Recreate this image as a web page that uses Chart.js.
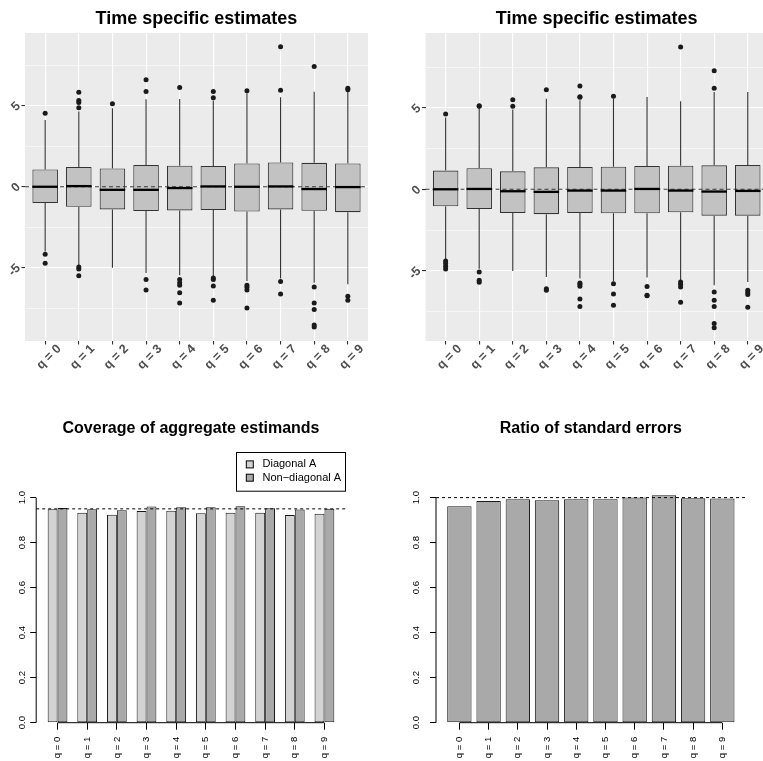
<!DOCTYPE html>
<html>
<head>
<meta charset="utf-8">
<script src="https://cdn.jsdelivr.net/npm/chart.js@4.4.0/dist/chart.umd.min.js"></script>
<style>
html, body { margin: 0; padding: 0; background: #fff; overflow: hidden; }
#wrap { position: relative; width: 763px; height: 761px; overflow: hidden; }
canvas { position: absolute; }
</style>
</head>
<body>
<div id="wrap">
  <canvas id="c1" width="393" height="381" style="left:0px;top:0px"></canvas>
  <canvas id="c2" width="433" height="381" style="left:380px;top:0px"></canvas>
  <canvas id="c3" width="382" height="381" style="left:0px;top:380px"></canvas>
  <canvas id="c4" width="420" height="381" style="left:381px;top:380px"></canvas>
</div>
<script>
const cats = ['q = 0', 'q = 1', 'q = 2', 'q = 3', 'q = 4', 'q = 5', 'q = 6', 'q = 7', 'q = 8', 'q = 9'];
const titles = ['Time specific estimates', 'Time specific estimates', 'Coverage of aggregate estimands', 'Ratio of standard errors'];

// left boxplot (whisker ends, quartiles, medians, outliers)
const leftLo  = [-4.0, -4.85, -5.0, -5.32, -5.46, -5.53, -5.81, -5.67, -5.92, -6.02];
const leftQ1  = [-1.01, -1.24, -1.40, -1.50, -1.46, -1.44, -1.53, -1.40, -1.48, -1.57];
const leftMed = [0.0, 0.04, -0.19, -0.19, -0.08, 0.02, 0.0, 0.02, -0.14, -0.02];
const leftQ3  = [1.07, 1.22, 1.13, 1.34, 1.30, 1.28, 1.44, 1.50, 1.48, 1.44];
const leftHi  = [4.12, 4.64, 4.85, 5.40, 5.42, 5.32, 5.77, 5.53, 5.86, 5.86];
const leftOut = [
  [4.54, -4.16, -4.72],
  [5.84, 5.32, 5.2, 4.87, -4.95, -5.07, -5.5],
  [5.13],
  [5.88, 6.6, -5.73, -6.37],
  [6.12, -5.73, -5.92, -6.08, -6.54, -7.18],
  [5.5, 5.88, -5.63, -5.73, -6.12, -7.01],
  [5.92, -6.08, -6.2, -6.37, -7.48],
  [5.96, 8.64, -5.84, -6.62],
  [7.42, -6.19, -7.18, -7.57, -8.54, -8.66],
  [6.08, 5.98, -6.76, -7.01]
];

// right boxplot
const rightLo  = [-4.3, -4.87, -5.01, -5.38, -5.48, -5.65, -5.42, -5.62, -5.89, -5.69];
const rightQ1  = [-1.04, -1.21, -1.45, -1.53, -1.45, -1.47, -1.47, -1.41, -1.62, -1.62];
const rightMed = [0.0, 0.02, -0.12, -0.16, -0.08, -0.08, 0.02, -0.08, -0.14, -0.10];
const rightQ3  = [1.15, 1.29, 1.10, 1.35, 1.37, 1.39, 1.43, 1.45, 1.47, 1.49];
const rightHi  = [4.4, 5.0, 4.9, 5.56, 5.46, 5.56, 5.66, 5.4, 5.97, 5.97];
const rightOut = [
  [4.62, -4.4, -4.56, -4.72, -4.89],
  [5.09, 5.13, -5.07, -5.58, -5.71],
  [5.09, 5.5],
  [6.11, -6.11, -6.2],
  [5.64, 5.68, 6.34, -5.75, -5.83, -5.95, -6.73, -7.2],
  [5.71, -5.79, -6.42, -7.12],
  [-5.97, -6.5, -6.54],
  [8.73, -5.69, -5.83, -5.99, -6.93],
  [6.2, 7.28, -6.3, -6.81, -7.2, -8.24, -8.49],
  [-6.2, -6.34, -6.46, -7.24]
];
const boxTicks = [-5, 0, 5];

// bar panels
const seriesNames = ['Diagonal A', 'Non\u2212diagonal A'];
const coverDiag    = [0.948, 0.933, 0.924, 0.940, 0.942, 0.931, 0.933, 0.933, 0.923, 0.928];
const coverNonDiag = [0.954, 0.948, 0.944, 0.960, 0.957, 0.957, 0.962, 0.953, 0.947, 0.951];
const seRatio      = [0.962, 0.985, 0.993, 0.988, 0.993, 0.993, 1.000, 1.010, 0.997, 0.996];
const barTicks = ['0.0', '0.2', '0.4', '0.6', '0.8', '1.0'];

const FONT = "'Liberation Sans', Arial, Helvetica, sans-serif";
Chart.defaults.font.family = FONT;
const NONE = 'rgba(0,0,0,0)';

function isInt(v) { return Math.abs(v - Math.round(v)) < 1e-6; }
function tickVal(c) { return c && c.tick ? c.tick.value : NaN; }

const titlePlugin = {
  id: 'panelTitle',
  afterDraw(chart, args, opts) {
    const ca = chart.chartArea, ctx = chart.ctx;
    ctx.save();
    ctx.font = 'bold ' + opts.size + 'px ' + FONT;
    ctx.fillStyle = '#000';
    ctx.textAlign = 'center';
    ctx.textBaseline = 'middle';
    ctx.fillText(opts.text, (ca.left + ca.right) / 2, opts.y);
    ctx.restore();
  }
};

const boxPlugin = {
  id: 'boxParts',
  beforeDraw(chart) {
    const ca = chart.chartArea, ctx = chart.ctx;
    ctx.save();
    ctx.fillStyle = '#EBEBEB';
    ctx.fillRect(ca.left, ca.top, ca.width, ca.height);
    ctx.restore();
  },
  beforeDatasetsDraw(chart, args, opts) {
    const x = chart.scales.x, y = chart.scales.y, ctx = chart.ctx, st = opts.stats;
    ctx.save();
    ctx.strokeStyle = '#333333';
    ctx.lineWidth = 1.1;
    st.lo.forEach(function(lo, i) {
      const px = x.getPixelForValue(i);
      ctx.beginPath();
      ctx.moveTo(px, y.getPixelForValue(st.hi[i]));
      ctx.lineTo(px, y.getPixelForValue(st.q3[i]));
      ctx.moveTo(px, y.getPixelForValue(st.q1[i]));
      ctx.lineTo(px, y.getPixelForValue(lo));
      ctx.stroke();
    });
    ctx.restore();
  },
  afterDatasetsDraw(chart, args, opts) {
    const y = chart.scales.y, ctx = chart.ctx, ca = chart.chartArea, st = opts.stats;
    // dashed reference line at zero
    ctx.save();
    ctx.strokeStyle = '#3a3a3a';
    ctx.lineWidth = 1.1;
    ctx.setLineDash([4, 3]);
    const y0 = y.getPixelForValue(0);
    ctx.beginPath();
    ctx.moveTo(ca.left, y0);
    ctx.lineTo(ca.right, y0);
    ctx.stroke();
    ctx.setLineDash([]);
    // medians
    ctx.strokeStyle = '#000';
    ctx.lineWidth = 2.3;
    chart.getDatasetMeta(1).data.forEach(function(bar, i) {
      const py = y.getPixelForValue(st.med[i]);
      ctx.beginPath();
      ctx.moveTo(bar.x - bar.width / 2, py);
      ctx.lineTo(bar.x + bar.width / 2, py);
      ctx.stroke();
    });
    ctx.restore();
  }
};

function boxChart(id, st, yMin, yMax, yAxisW, padRight, title) {
  const boxes = st.q1.map((v, i) => ({ x: i, y: [v, st.q3[i]] }));
  const pts = [];
  st.out.forEach((arr, i) => arr.forEach(v => pts.push({ x: i, y: v })));
  return new Chart(document.getElementById(id), {
    type: 'bar',
    data: {
      datasets: [
        { type: 'scatter', data: pts, pointRadius: 2.5, pointBackgroundColor: '#1a1a1a', pointBorderWidth: 0 },
        { data: boxes, backgroundColor: '#C2C2C2', borderColor: '#333333', borderWidth: 1.1,
          borderSkipped: false, barPercentage: 0.76, categoryPercentage: 1 }
      ]
    },
    options: {
      responsive: false,
      animation: false,
      layout: { padding: { top: 33, right: padRight, left: 0, bottom: 0 } },
      plugins: {
        legend: { display: false },
        tooltip: { enabled: false },
        panelTitle: { text: title, size: 18, y: 19 },
        boxParts: { stats: st }
      },
      scales: {
        x: {
          type: 'linear', min: -0.6, max: 9.6, offset: false,
          afterFit: s => { s.height = 40; },
          border: { display: false, color: NONE },
          grid: {
            offset: false,
            color: c => isInt(tickVal(c)) ? '#FFFFFF' : NONE,
            lineWidth: 1.1, tickLength: 3.5, tickWidth: 1.1,
            tickColor: c => isInt(tickVal(c)) ? '#333333' : NONE
          },
          ticks: {
            stepSize: 1, includeBounds: false, autoSkip: false, minRotation: 45, maxRotation: 45,
            padding: -3, labelOffset: 14, color: '#4D4D4D', font: { size: 12.5, weight: 'bold' },
            callback: v => isInt(v) ? cats[Math.round(v)] : ''
          }
        },
        y: {
          min: yMin, max: yMax,
          afterFit: s => { s.width = yAxisW; },
          border: { display: false, color: NONE },
          grid: {
            color: c => isInt(tickVal(c) / 2.5) ? '#FFFFFF' : NONE,
            lineWidth: c => boxTicks.includes(tickVal(c)) ? 1.1 : 0.55,
            tickLength: 3.5,
            tickColor: c => boxTicks.includes(tickVal(c)) ? '#333333' : NONE,
            tickWidth: 1.1
          },
          ticks: {
            stepSize: 2.5, includeBounds: false, autoSkip: false, minRotation: 45, maxRotation: 45,
            padding: 3, labelOffset: -1.5, color: '#4D4D4D', font: { size: 12.5, weight: 'bold' },
            callback: v => boxTicks.includes(v) ? String(v) : ''
          }
        }
      }
    },
    plugins: [titlePlugin, boxPlugin]
  });
}

const baseRPlugin = {
  id: 'baseR',
  afterDatasetsDraw(chart, args, opts) {
    const x = chart.scales.x, y = chart.scales.y, ctx = chart.ctx, ca = chart.chartArea;
    ctx.save();
    ctx.strokeStyle = '#000';
    ctx.lineWidth = 1;
    // axis lines
    ctx.beginPath();
    ctx.moveTo(ca.left, y.getPixelForValue(0));
    ctx.lineTo(ca.left, y.getPixelForValue(1));
    ctx.moveTo(x.getPixelForValue(0), y.getPixelForValue(0));
    ctx.lineTo(x.getPixelForValue(cats.length - 1), y.getPixelForValue(0));
    ctx.stroke();
    // reference line
    const yr = y.getPixelForValue(opts.ref);
    ctx.setLineDash([3, 3]);
    ctx.beginPath();
    ctx.moveTo(ca.left, yr);
    ctx.lineTo(ca.right, yr);
    ctx.stroke();
    ctx.setLineDash([]);
    // legend box
    if (opts.legend) {
      const w = 110, h = 38.7;
      const lx = ca.right - w, ly = ca.top;
      ctx.strokeRect(Math.round(lx) + 0.5, Math.round(ly) + 0.5, w - 1, h);
      ctx.font = '11px ' + FONT;
      ctx.textBaseline = 'middle';
      ctx.textAlign = 'left';
      opts.legend.forEach(function(name, k) {
        const cy = ly + 12.7 + k * 13.3;
        ctx.fillStyle = opts.colors[k];
        ctx.fillRect(lx + 10.5, cy - 3.5, 7, 7);
        ctx.strokeRect(lx + 10.5, cy - 3.5, 7, 7);
        ctx.fillStyle = '#000';
        ctx.fillText(name, lx + 26.7, cy);
      });
    }
    ctx.restore();
  }
};

function barChart(id, datasets, xMin, xMax, yAxisW, padRight, labelPad, title, ref, legend) {
  return new Chart(document.getElementById(id), {
    type: 'bar',
    data: { datasets: datasets },
    options: {
      responsive: false,
      animation: false,
      layout: { padding: { top: 71.7, right: padRight, left: 0, bottom: 0 } },
      plugins: {
        legend: { display: false },
        tooltip: { enabled: false },
        panelTitle: { text: title, size: 16, y: 48.5 },
        baseR: { ref: ref, legend: legend, colors: ['#D3D3D3', '#A9A9A9'] }
      },
      scales: {
        x: {
          type: 'linear', min: xMin, max: xMax, offset: false,
          afterFit: s => { s.height = 38.3; },
          border: { display: false, color: NONE },
          grid: {
            offset: false, drawOnChartArea: false, tickLength: 7, lineWidth: 1,
            color: c => isInt(tickVal(c)) ? '#000' : NONE
          },
          ticks: {
            stepSize: 1, includeBounds: false, autoSkip: false, minRotation: 90, maxRotation: 90,
            padding: 7, color: '#000', font: { size: 9.6 },
            callback: v => isInt(v) ? cats[Math.round(v)] : ''
          }
        },
        y: {
          min: 0, max: 1.204,
          afterFit: s => { s.width = yAxisW; },
          border: { display: false, color: NONE },
          grid: {
            drawOnChartArea: false, tickLength: 6, lineWidth: 1,
            color: c => (tickVal(c) <= 1.0001 && isInt(tickVal(c) * 5)) ? '#000' : NONE
          },
          ticks: {
            stepSize: 0.2, includeBounds: false, autoSkip: false, minRotation: 90, maxRotation: 90,
            crossAlign: 'center', padding: labelPad, color: '#000', font: { size: 9.6 },
            callback: v => (v <= 1.0001 && isInt(v * 5)) ? barTicks[Math.round(v * 5)] : ''
          }
        }
      }
    },
    plugins: [titlePlugin, baseRPlugin]
  });
}

boxChart('c1', { lo: leftLo, q1: leftQ1, med: leftMed, q3: leftQ3, hi: leftHi, out: leftOut },
  -9.52, 9.49, 25, 25, titles[0]);
boxChart('c2', { lo: rightLo, q1: rightQ1, med: rightMed, q3: rightQ3, hi: rightHi, out: rightOut },
  -9.31, 9.59, 45.5, 45.1, titles[1]);

const barStyle = { borderColor: '#1a1a1a', borderWidth: 1, borderSkipped: false, barPercentage: 1 };
barChart('c3', [
  Object.assign({ data: coverDiag.map((v, i) => ({ x: i, y: v })), backgroundColor: '#D3D3D3', categoryPercentage: 2 / 3 }, barStyle),
  Object.assign({ data: coverNonDiag.map((v, i) => ({ x: i, y: v })), backgroundColor: '#A9A9A9', categoryPercentage: 2 / 3 }, barStyle)
], -0.72, 9.72, 36.2, 36.2, 1.5, titles[2], 0.95, seriesNames);

barChart('c4', [
  Object.assign({ data: seRatio.map((v, i) => ({ x: i, y: v })), backgroundColor: '#A9A9A9', categoryPercentage: 1 / 1.2 }, barStyle)
], -0.8, 9.8, 55, 55.3, 6.8, titles[3], 1.0, null);
</script>
</body>
</html>
